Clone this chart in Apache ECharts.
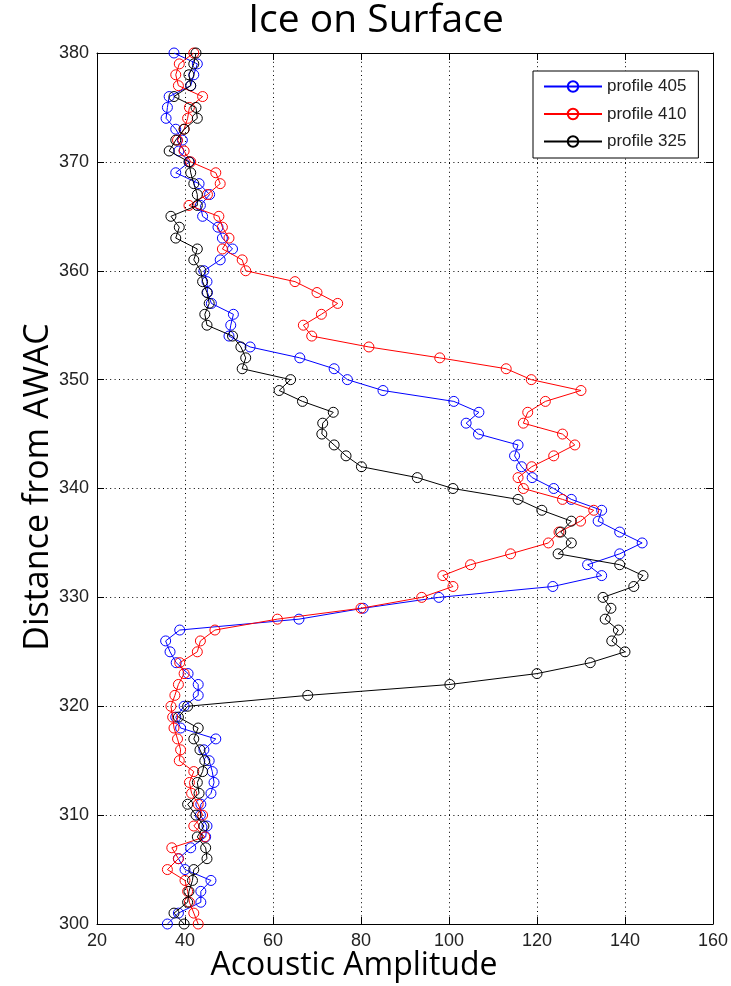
<!DOCTYPE html>
<html>
<head>
<meta charset="utf-8">
<script src="https://cdn.jsdelivr.net/npm/echarts@6/dist/echarts.min.js"></script>
<style>html,body{margin:0;padding:0;background:#fff}#c{width:731px;height:986px}</style>
</head>
<body>
<div id="c"></div>
<script>
// Distance from AWAC (y values), top to bottom
const distance = [380,379,378,377,376,375,374,373,372,371,
  370,369,368,367,366,365,364,363,362,361,
  360,359,358,357,356,355,354,353,352,351,
  350,349,348,347,346,345,344,343,342,341,
  340,339,338,337,336,335,334,333,332,331,
  330,329,328,327,326,325,324,323,322,321,
  320,319,318,317,316,315,314,313,312,311,
  310,309,308,307,306,305,304,303,302,301,300];

// Acoustic amplitude per profile, matching distance order
const profile405 = [37.5,42.8,42,41.3,36.4,36,35.7,37.9,39.4,38.6,
  41,37.9,43.2,45.6,43.5,44,47.5,48.5,50.8,48,
  44.3,45,45.1,46,51,50.4,50,54.8,66.1,73.9,
  76.9,85,101.1,106.8,103.9,106.7,115.7,114.9,116.5,118.9,
  123.8,127.8,134.7,133.9,138.8,143.9,138.8,131.5,134.7,123.6,
  97.7,80.5,65.9,38.8,35.6,36.6,38,40.7,43,43,
  39.8,37.9,39,47,44.3,45.5,46.2,46.6,45.9,43.6,
  43.5,45,44.7,41.3,38.5,40,45.9,43.6,43.6,38.5,36];

const profile410 = [42,38.7,37.9,38.5,44,41,40.6,39.8,38.3,39.8,
  41.3,47,48,45.1,40.9,47.7,48.5,50,48.5,53,
  53.8,65,70,74.7,71,66.9,68.8,81.8,97.9,113,
  118.7,130,121.9,117.9,116.9,125.8,128.6,123.8,118.8,115.7,
  116.9,125.8,132.9,129.9,125,122.6,114,104.9,98.6,100.9,
  93.8,80,61,46.8,43.5,42.8,38.8,39.8,38.5,37.7,
  36.8,37.2,37.5,38.3,39,38.7,42,41,41.5,43,
  44,42,44.5,37,38.5,36,40,40.6,41,42,43];

const profile325 = [42.5,42,40.9,41.3,37.5,42.5,42.8,39.8,37.9,36.4,
  40.9,41.3,42,42.8,42.8,36.8,38.7,37.9,42.8,42,
  43.6,44,45,45.5,44.5,45,50.8,52.7,53.8,53,
  64,61.4,66.7,73.7,71.3,71.1,73.9,76.6,80.1,92.8,
  100.9,115.7,121.1,127.8,125.4,127.8,124.8,138.8,144.1,142,
  135,136.8,135.5,138.5,137,140,132.1,120,100.2,67.9,
  40.6,38.5,43,42,43.4,44.5,44,42.8,43.2,40.6,
  42.5,44.3,42.8,44.7,45,42,41.7,40.9,40.6,37.5,39.8];

const seriesNames = ['profile 405', 'profile 410', 'profile 325'];
const seriesColors = ['#0000ff', '#ff0000', '#000000'];
const seriesValues = [profile405, profile410, profile325];

const xTicks = {min: 20, max: 160, interval: 20};
const yTicks = {min: 300, max: 380, interval: 10};

const tickFont = {fontFamily: 'Liberation Sans', fontSize: 18, color: '#222'};
const axisLineStyle = {color: '#000', width: 1};
const gridDots = {type: [1, 3.4], color: '#000', width: 1};

function makeAxis(base, pos, showLabel, showSplit) {
  return Object.assign({
    type: 'value',
    position: pos,
    axisLine: {show: true, onZero: false, lineStyle: axisLineStyle},
    axisTick: {show: true, inside: true, length: 7, lineStyle: axisLineStyle},
    axisLabel: Object.assign({show: showLabel, margin: 8}, tickFont),
    splitLine: {show: showSplit, lineStyle: gridDots}
  }, base);
}

const chart = echarts.init(document.getElementById('c'), null, {renderer: 'canvas'});

const series = seriesNames.map((name, i) => ({
  name: name,
  type: 'line',
  xAxisIndex: 0,
  yAxisIndex: 0,
  data: seriesValues[i].map((v, k) => [v, distance[k]]),
  symbol: 'circle',
  symbolSize: 10,
  showAllSymbol: true,
  color: seriesColors[i],
  lineStyle: {color: seriesColors[i], width: 1},
  itemStyle: {color: 'rgba(255,255,255,0)', borderColor: seriesColors[i], borderWidth: 1},
  emphasis: {disabled: true},
  z: 2 + i
}));

chart.setOption({
  animation: false,
  grid: {left: 97, top: 53, width: 616, height: 871, show: false},
  xAxis: [
    makeAxis(xTicks, 'bottom', true, true),
    makeAxis(xTicks, 'top', false, false)
  ],
  yAxis: [
    makeAxis(yTicks, 'left', true, true),
    makeAxis(yTicks, 'right', false, false)
  ],
  legend: {
    orient: 'vertical',
    left: 533,
    top: 71,
    padding: [7, 12, 8, 10],
    itemWidth: 58,
    itemHeight: 13,
    itemGap: 10.5,
    borderColor: '#000',
    borderWidth: 1,
    backgroundColor: '#fff',
    borderRadius: 0,
    textStyle: {fontFamily: 'Liberation Sans', fontSize: 17, color: '#222', lineHeight: 17},
    data: seriesNames
  },
  graphic: [
    {type: 'text', x: 376, y: 21, style: {text: 'Ice on Surface', fontFamily: 'Open Sans', fontSize: 39, fill: '#000', align: 'center', verticalAlign: 'middle'}},
    {type: 'text', x: 354, y: 966, style: {text: 'Acoustic Amplitude', fontFamily: 'Open Sans', fontSize: 32, fill: '#000', align: 'center', verticalAlign: 'middle'}},
    {type: 'text', x: 38, y: 487, rotation: Math.PI / 2, style: {text: 'Distance from AWAC', fontFamily: 'Open Sans', fontSize: 34, fill: '#000', align: 'center', verticalAlign: 'middle'}}
  ],
  series: series
});
</script>
</body>
</html>
